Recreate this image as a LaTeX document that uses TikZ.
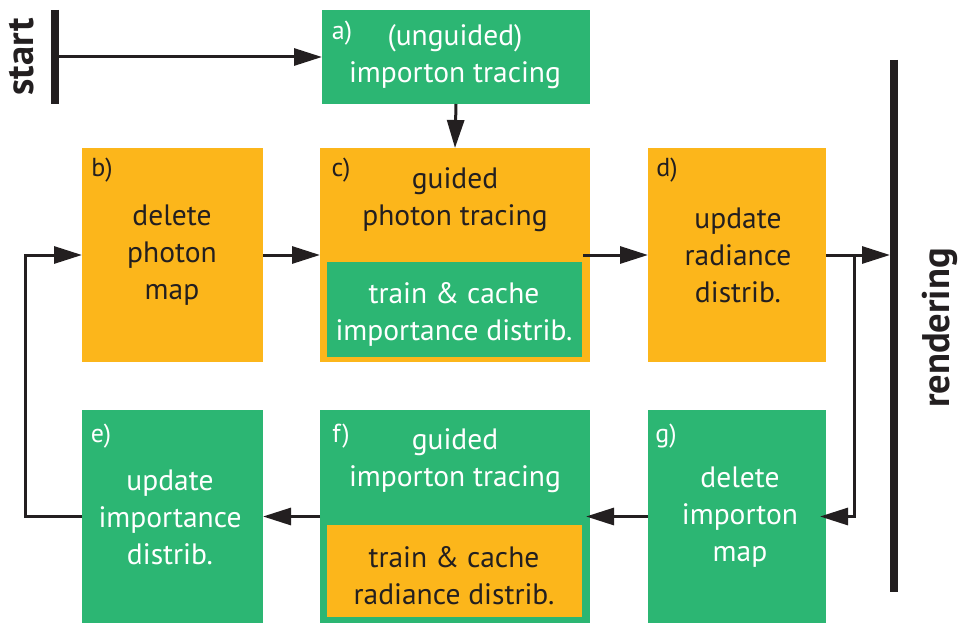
\documentclass[tikz,border=0pt]{standalone}
\usepackage{fontspec}
\setmainfont{PT Sans}
\usetikzlibrary{arrows.meta,calc}

\definecolor{boxgreen}{RGB}{44,182,115}
\definecolor{boxorange}{RGB}{252,182,27}
\definecolor{ink}{RGB}{35,31,32}

\tikzset{
  box/.style={anchor=north west, inner sep=0pt, outer sep=0pt},
  gbox/.style={box, fill=boxgreen},
  obox/.style={box, fill=boxorange},
  txt/.style={align=center, inner sep=0pt, font=\fontsize{29.5}{37}\selectfont},
  lbl/.style={inner sep=0pt, font=\fontsize{26}{30}\selectfont},
  wtxt/.style={txt, text=white},
  dtxt/.style={txt, text=ink},
  arr/.style={draw=ink, line width=3pt,
    -{Triangle[length=28pt,width=17pt]}},
  bar/.style={draw=ink, line width=7.5pt},
  side/.style={font=\fontsize{38.5}{42}\bfseries\selectfont, text=ink, rotate=90, inner sep=0pt},
}

\begin{document}
\begin{tikzpicture}[x=1pt, y=-1pt]
\useasboundingbox (0,0) rectangle (962,623);

% boxes
\node[gbox, minimum width=268pt, minimum height=94pt] (a) at (322,10) {};
\node[obox, minimum width=181pt, minimum height=214pt] (b) at (82,148) {};
\node[obox, minimum width=270pt, minimum height=214pt] (c) at (320,148) {};
\node[gbox, minimum width=255pt, minimum height=95pt] (ci) at (327,262) {};
\node[obox, minimum width=178pt, minimum height=214pt] (d) at (648,148) {};
\node[gbox, minimum width=181pt, minimum height=213pt] (e) at (82,410) {};
\node[gbox, minimum width=270pt, minimum height=213pt] (f) at (320,410) {};
\node[obox, minimum width=255pt, minimum height=92pt] (fi) at (327,525) {};
\node[gbox, minimum width=178pt, minimum height=213pt] (g) at (648,410) {};

% texts
\node[lbl, text=white] (la) at (342,33) {a)};
\node[wtxt] (ta) at (455,57) {(unguided)\\importon tracing};

\node[lbl, text=ink] (lb) at (102,170) {b)};
\node[dtxt] (tb) at (172,255) {delete\\photon\\map};

\node[lbl, text=ink] (lc) at (341,170) {c)};
\node[dtxt] (tc) at (455,200) {guided\\photon tracing};
\node[wtxt] (tci) at (454,314) {train \& cache\\importance distrib.};

\node[lbl, text=ink] (ld) at (667,170) {d)};
\node[dtxt] (td) at (738,255) {update\\radiance\\distrib.};

\node[lbl, text=white] (le) at (101,436) {e)};
\node[wtxt] (te) at (170,517) {update\\importance\\distrib.};

\node[lbl, text=white] (lf) at (341,436) {f)};
\node[wtxt] (tf) at (455,461) {guided\\importon tracing};
\node[dtxt] (tfi) at (454,576) {train \& cache\\radiance distrib.};

\node[lbl, text=white] (lg) at (666,436) {g)};
\node[wtxt] (tg) at (740,517) {delete\\importon\\map};

% start and rendering bars
\coordinate (s0) at (55,10);
\coordinate (s1) at (55,104);
\coordinate (sm) at (55,57);
\draw[bar] (s0) -- (s1);
\node[side] (start) at (22,57) {start};

\coordinate (r0) at (894,60);
\coordinate (r1) at (894,592);
\coordinate (rin) at (890,255);
\coordinate (br) at (854,255);
\draw[bar] (r0) -- (r1);
\node[side] (rendering) at (940,328) {rendering};

% flow
\draw[arr] (sm) -- (a.west);
\draw[arr] (a.south) -- (c.north);
\draw[arr] (b.east) -- (c.west);
\draw[arr] ([xshift=-7pt]c.east) -- (d.west);
\draw[arr] (d.east) -- (rin);
\draw[arr] (br) |- ([xshift=-6pt]g.east);
\draw[arr] (g.west) -- ([xshift=-4pt]f.east);
\draw[arr] (f.west) -- (e.east);
\draw[arr] (e.west) -- ++(-57,0) |- (b.west);
\end{tikzpicture}
\end{document}
